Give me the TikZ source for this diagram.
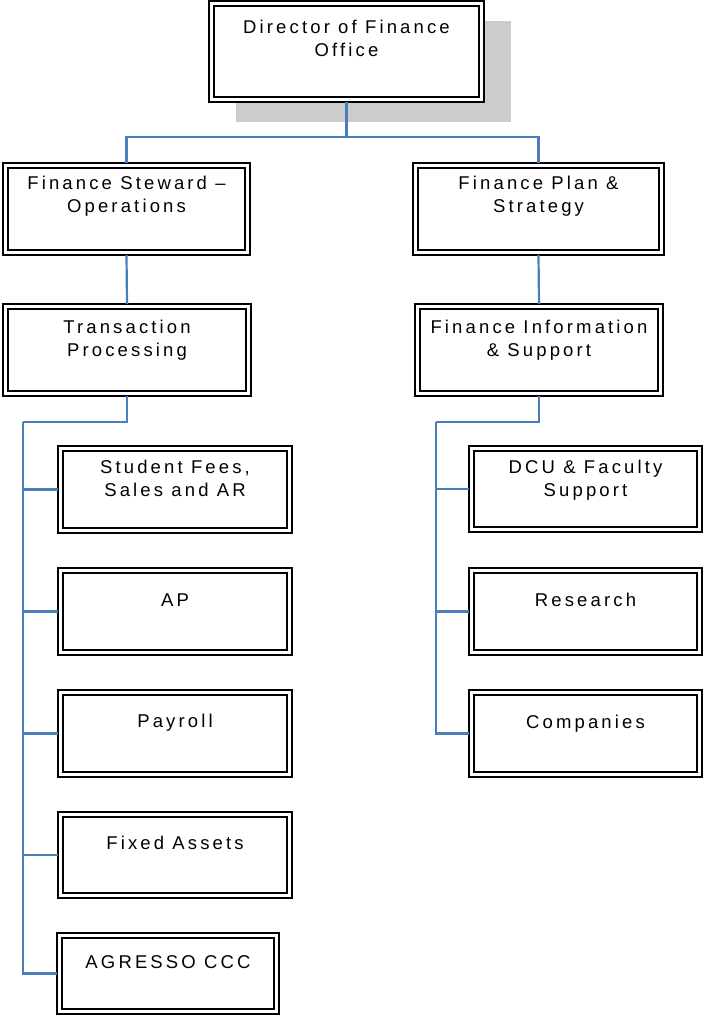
\documentclass[tikz,border=0pt]{standalone}
\usepackage{fontspec}
\setmainfont{Liberation Sans}[LetterSpace=17]
\usetikzlibrary{shadows}
\definecolor{connc}{HTML}{4A7EBB}
\newcommand\bxt[4]{\parbox[c][#1pt][t]{#2pt}{\centering\rule{0pt}{#3pt}#4}}
\tikzset{
  box/.style={draw, line width=1.5pt, fill=white, inner sep=0pt, outer sep=0pt,
    font=\fontsize{18.5}{23}\selectfont},
  innerline/.style={line width=2.4pt},
  conn/.style={draw=connc, line width=2.2pt},
}
\begin{document}
\begin{tikzpicture}[x=1pt,y=-1pt]
\useasboundingbox (0,0) rectangle (704,1016);
% top
\node[box, drop shadow={shadow xshift=27pt, shadow yshift=-20pt, fill=black!20, opacity=1}]
  (dir) at (346.5,51.5) {\bxt{101}{275}{33}{Director of Finance\\Office}};
% level 2
\node[box] (fs) at (126.5,209) {\bxt{92}{247}{27}{Finance Steward --\\Operations}};
\node[box] (fp) at (538.5,209) {\bxt{92}{251}{27}{Finance Plan \&\\Strategy}};
% level 3
\node[box] (tp) at (127,350) {\bxt{92}{248}{29}{Transaction\\Processing}};
\node[box] (fi) at (539,350) {\bxt{92}{248}{29}{Finance Information\\\& Support}};
% left children
\node[box] (sf) at (175,489.5) {\bxt{87}{234}{27}{Student Fees,\\Sales and AR}};
\node[box] (ap) at (175,611.5) {\bxt{87}{234}{38}{AP}};
\node[box] (pay) at (175,733.5) {\bxt{87}{234}{37}{Payroll}};
\node[box] (fa) at (175,855) {\bxt{86}{234}{37}{Fixed Assets}};
\node[box] (ag) at (168,973.5) {\bxt{81}{222}{35}{AGRESSO CCC}};
% right children
\node[box] (dcu) at (585.5,489) {\bxt{86}{233}{27}{DCU \& Faculty\\Support}};
\node[box] (res) at (585.5,611.5) {\bxt{87}{233}{38}{Research}};
\node[box] (com) at (585.5,733.5) {\bxt{87}{233}{38}{Companies}};
% inner borders
\foreach \n in {dir,fs,fp,tp,fi,sf,ap,pay,fa,ag,dcu,res,com}
  \draw[innerline] ([shift={(5pt,-5pt)}]\n.north west) rectangle ([shift={(-5pt,5pt)}]\n.south east);
% connectors
\draw[conn] (dir.south) -- ++(0,35) -| (fs.north);
\draw[conn] (dir.south) -- ++(0,35) -| (fp.north);
\draw[conn] (fs.south) -- (tp.north);
\draw[conn] (fp.south) -- (fi.north);
\coordinate (lt) at (23,422);
\coordinate (rt) at (436,422);
\draw[conn] (tp.south) |- (lt);
\draw[conn] (fi.south) |- (rt);
\foreach \c in {sf,ap,pay,fa,ag} \draw[conn] (lt) |- (\c.west);
\foreach \c in {dcu,res,com} \draw[conn] (rt) |- (\c.west);
\end{tikzpicture}
\end{document}
